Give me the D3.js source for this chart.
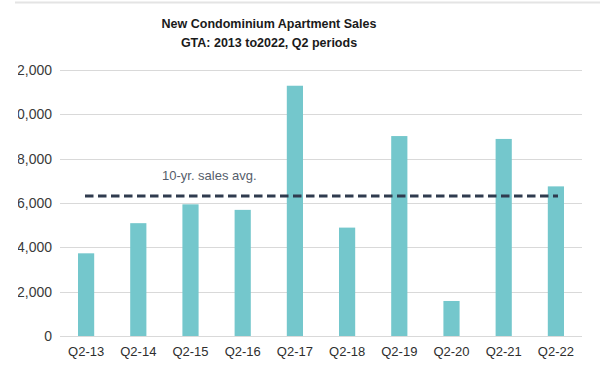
<!DOCTYPE html>
<html>
<head>
<meta charset="utf-8">
<script src="https://cdn.jsdelivr.net/npm/d3@7"></script>
<style>
  body { margin: 0; background: #fff; }
  svg { display: block; }
</style>
</head>
<body>
<div id="chart"></div>
<script>
'use strict';

const quarters = ['Q2-13', 'Q2-14', 'Q2-15', 'Q2-16', 'Q2-17', 'Q2-18', 'Q2-19', 'Q2-20', 'Q2-21', 'Q2-22'];
const sales = [3730, 5090, 5940, 5690, 11290, 4890, 9020, 1580, 8890, 6750];
const tenYearAvg = 6320;
const yTicks = [0, 2000, 4000, 6000, 8000, 10000, 12000];
const titleLines = ['New Condominium Apartment Sales', 'GTA: 2013 to2022, Q2 periods'];
const avgLabel = '10-yr. sales avg.';

const width = 600, height = 376;
const plot = { left: 60, right: 582, top: 70, bottom: 336 };

const svg = d3.select('#chart').append('svg')
    .attr('width', width)
    .attr('height', height);

// the screenshot is cropped on the left, cutting the first digit of the wide labels
svg.append('clipPath')
    .attr('id', 'leftcrop')
    .append('rect')
    .attr('x', 18).attr('y', 0).attr('width', width).attr('height', height);

// faint frame line at top of the screenshot
svg.append('line')
    .attr('x1', 15).attr('x2', width).attr('y1', 2.5).attr('y2', 2.5)
    .attr('stroke', '#e4e4e4').attr('stroke-width', 2);

const x = d3.scaleBand()
    .domain(quarters)
    .range([plot.left, plot.right])
    .paddingInner(0.69)
    .paddingOuter(0.345);

const y = d3.scaleLinear()
    .domain([0, 12000])
    .range([plot.bottom, plot.top]);

// gridlines
svg.append('g')
    .selectAll('line')
    .data(yTicks)
    .join('line')
    .attr('x1', plot.left).attr('x2', plot.right)
    .attr('y1', d => Math.round(y(d)) + 0.5).attr('y2', d => Math.round(y(d)) + 0.5)
    .attr('stroke', '#d9d9d9')
    .attr('stroke-width', 1.2);

// y axis labels
const yAxis = d3.axisLeft(y).tickValues(yTicks).tickFormat(d3.format(',')).tickSize(0).tickPadding(0);
svg.append('g')
    .attr('clip-path', 'url(#leftcrop)')
    .append('g')
    .attr('transform', `translate(52,0)`)
    .call(yAxis)
    .call(g => g.select('.domain').remove())
    .call(g => g.selectAll('text')
        .attr('font-family', 'Liberation Sans, Arial, sans-serif')
        .attr('font-size', 14)
        .attr('fill', '#3a3a3a'));

// bars
svg.append('g')
    .selectAll('rect')
    .data(quarters)
    .join('rect')
    .attr('x', d => x(d))
    .attr('width', x.bandwidth())
    .attr('y', (d, i) => y(sales[i]))
    .attr('height', (d, i) => y(0) - y(sales[i]))
    .attr('fill', '#74c7cc');

// x axis labels
const xAxis = d3.axisBottom(x).tickSize(0).tickPadding(0);
svg.append('g')
    .attr('transform', `translate(0,347)`)
    .call(xAxis)
    .call(g => g.select('.domain').remove())
    .call(g => g.selectAll('text')
        .attr('font-family', 'Liberation Sans, Arial, sans-serif')
        .attr('font-size', 13)
        .attr('fill', '#2e2e2e'));

// average line
svg.append('line')
    .attr('x1', 85).attr('x2', 558)
    .attr('y1', y(tenYearAvg)).attr('y2', y(tenYearAvg))
    .attr('stroke', '#2f3b4e')
    .attr('stroke-width', 3)
    .attr('stroke-dasharray', '8.5,4.5');

svg.append('text')
    .attr('x', 162)
    .attr('y', y(tenYearAvg) - 16)
    .attr('font-family', 'Liberation Sans Narrow, Liberation Sans, Arial, sans-serif')
    .attr('font-size', 13)
    .attr('fill', '#555d6b')
    .text(avgLabel);

// title
svg.append('g')
    .selectAll('text')
    .data(titleLines)
    .join('text')
    .attr('x', 269)
    .attr('y', (d, i) => 28 + i * 19)
    .attr('text-anchor', 'middle')
    .attr('font-family', 'Liberation Sans Narrow, Liberation Sans, Arial, sans-serif')
    .attr('font-weight', 'bold')
    .attr('font-size', 12.5)
    .attr('fill', '#1a1a1a')
    .text(d => d);
</script>
</body>
</html>
